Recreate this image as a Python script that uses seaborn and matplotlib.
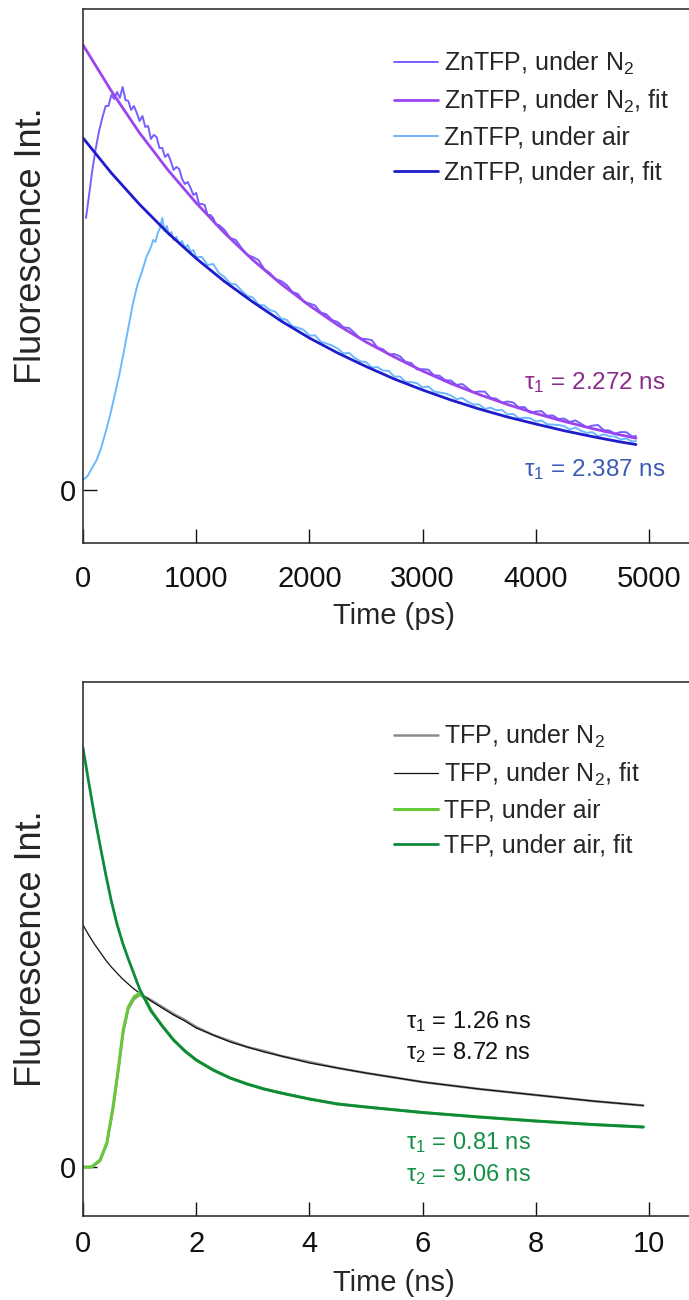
import matplotlib
matplotlib.use('Agg')
import matplotlib.pyplot as plt
import seaborn as sns

# ---- top panel: ZnTFP (time in ps, intensity in arbitrary units) ----
zn_n2_t = ([26, 50, 80, 110, 140, 170]
           + list(range(200, 1225, 25))
           + list(range(1250, 4900, 50)) + [4885])
zn_n2_v = [272, 292, 318, 340, 358, 372,
           384, 384, 395, 391, 398, 392, 403, 390, 389, 380,
           384, 377, 369, 374, 363, 364, 351, 355, 353, 342,
           342, 333, 336, 329, 320, 323, 321, 311, 306, 308,
           302, 295, 297, 286, 286, 285, 275, 275, 272, 265,
           265,
           260, 252, 250, 242, 235, 233, 230, 221, 217, 211,
           209, 205, 198, 196, 188, 186.5, 184.5, 177.6, 175.7, 170,
           168, 162.7, 162, 157, 151.4, 151, 150, 142.6, 140.7, 135.6,
           136, 133.7, 128, 127, 120.5, 120.8, 120.3, 114.7, 114.3, 109.8,
           109.5, 105, 106, 101.6, 97.5, 98.5, 98.3, 92.2, 91.3, 87.3,
           88.5, 87.5, 82.7, 83, 77.2, 78.5, 78.9, 74.2, 74.6, 71,
           71.5, 68, 69.6, 66.2, 62.8, 64.4, 65, 59.8, 59.5, 56.2,
           58, 57.8, 53.6,
           54]

zn_fit_t = [0, 250, 500, 750, 1000, 1250, 1500, 1750, 2000, 2250, 2500, 2750, 3000,
            3250, 3500, 3750, 4000, 4250, 4500, 4750, 4885]
zn_n2_fit = [445, 399, 357, 320, 287, 257, 230, 206, 184.5, 165, 148, 133, 119,
             106.5, 95.5, 85.5, 76.5, 68.6, 61.4, 55, 51.8]
zn_air_fit = [352, 317, 285.5, 257, 231.5, 208.5, 188, 169, 152, 137, 123.5, 111, 100,
              90, 81, 73, 66, 59.3, 53.4, 48, 45.5]

zn_air_t = ([0, 40, 80, 120, 160, 200, 240, 280, 320, 360,
             400, 440, 480, 520, 560, 600, 620, 640, 660, 680,
             700, 720, 740, 760, 780, 800, 825, 850, 875, 900,
             925, 950, 975, 1000, 1050, 1100, 1150, 1200]
            + list(range(1250, 4900, 50)) + [4885])
zn_air_v = [10, 14, 22, 30, 42, 58, 75, 95, 115, 138,
            162, 186, 205, 218, 233, 243, 250, 248, 257, 262,
            272, 259, 264, 255, 258, 250, 253, 246, 249, 242,
            245, 238, 240, 233, 233, 225, 226, 217,
            213, 206.5, 205.5, 199.5, 194.2, 192.5, 185.4, 184.5, 179.9, 178.2,
            171.5, 170.1, 163.7, 162.3, 160, 154.5, 154.6, 148.5, 146.5, 144.5,
            141.5, 136.5, 137, 132.3, 128.6, 128, 122.5, 123, 119.5, 119.1,
            113.5, 113.4, 108.2, 107.9, 106.8, 102.5, 103.6, 98.5, 97.5, 96.5,
            94.5, 90.8, 92, 88.2, 85.5, 85.5, 81.1, 82.4, 79.8, 80.2,
            75.5, 76.1, 71.7, 72.2, 71.8, 68.5, 69.5, 65.7, 65.4, 65.1,
            63.8, 60.5, 62.4, 59.2, 57.1, 57.9, 53.8, 55.7, 53.7, 53.5,
            50.5, 51.5, 48.6,
            49]

# ---- bottom panel: TFP (time in ns) ----
tfp_fit_t = [0, 0.1, 0.2, 0.3, 0.4, 0.5, 0.6, 0.7, 0.8, 0.9, 1.0, 1.2, 1.4, 1.6, 1.8,
             2.0, 2.3, 2.6, 2.9, 3.2, 3.5, 4.0, 4.5, 5.0, 6.0, 7.0, 8.0, 9.0, 9.9]
tfp_air_fit = [419, 385, 352, 322, 293, 266, 243, 224, 208, 193, 178, 156, 141, 127, 116,
               107, 97, 89, 83, 78, 74, 68, 63, 60, 54.5, 50, 46, 42.5, 40]
tfp_n2_fit = [242, 232, 223, 215, 207, 200, 194, 188, 183, 178, 174, 166, 159, 152, 146,
              139, 132, 125, 120, 115, 111, 104, 99, 94, 85, 78, 72, 66, 61.5]

tfp_data_t = [0, 0.15, 0.3, 0.42, 0.53, 0.62, 0.71, 0.8, 0.9, 1.0, 1.1, 1.2, 1.4, 1.6,
              1.8, 2.0, 2.3, 2.6, 2.9, 3.2, 3.5, 4.0, 4.5, 5.0, 6.0, 7.0, 8.0, 9.0, 9.9]
tfp_n2_v = [0, 0, 6, 23, 58, 95, 135, 158, 168, 172, 170, 167, 160, 153, 147,
            140, 132, 126, 120, 116, 111, 105, 99, 94, 85, 78, 72, 66, 61.5]
tfp_air_v = [0, 0, 7, 24, 60, 97, 137, 160, 170, 174, 168, 157, 141, 127, 116,
             107, 97, 89, 83, 78, 74, 68, 63, 60, 54.5, 50, 46, 42.5, 40]

sns.set_style('ticks')
plt.rcParams['font.family'] = ['Liberation Sans', 'DejaVu Sans']
plt.rcParams['mathtext.fontset'] = 'custom'
plt.rcParams['mathtext.rm'] = 'Liberation Sans'
plt.rcParams['mathtext.it'] = 'Liberation Sans:italic'
plt.rcParams['mathtext.default'] = 'regular'

fig = plt.figure(figsize=(6.89, 13.0), dpi=100)
ax1 = fig.add_axes([0.1205, 0.5823, 0.9036, 0.4108])
ax2 = fig.add_axes([0.1205, 0.0646, 0.9036, 0.4108])

# top
sns.lineplot(x=zn_n2_t, y=zn_n2_v, ax=ax1, color='#7560ff', lw=1.4, label='ZnTFP, under N$_2$',
             estimator=None, sort=False)
sns.lineplot(x=zn_fit_t, y=zn_n2_fit, ax=ax1, color='#9b45ef', lw=2.0, label='ZnTFP, under N$_2$, fit',
             estimator=None, sort=False)
sns.lineplot(x=zn_air_t, y=zn_air_v, ax=ax1, color='#6cb8ff', lw=1.4, label='ZnTFP, under air',
             estimator=None, sort=False)
sns.lineplot(x=zn_fit_t, y=zn_air_fit, ax=ax1, color='#1f1ccc', lw=2.0, label='ZnTFP, under air, fit',
             estimator=None, sort=False)
ax1.set_xlim(0, 5500)
ax1.set_ylim(-53, 481)
ax1.set_xticks([0, 1000, 2000, 3000, 4000, 5000])
ax1.set_xlabel('Time (ps)', fontsize=21, labelpad=6)
ax1.text(3900, 107, 'τ$_1$ = 2.272 ns', color='#8a2b8a', fontsize=17.5, va='center')
ax1.text(3900, 20, 'τ$_1$ = 2.387 ns', color='#3d5bb5', fontsize=17.5, va='center')
ax1.tick_params(axis='x', pad=16)

# bottom
sns.lineplot(x=tfp_data_t, y=tfp_n2_v, ax=ax2, color='#8c8c8c', lw=1.8, label='TFP, under N$_2$',
             estimator=None, sort=False)
sns.lineplot(x=tfp_fit_t, y=tfp_n2_fit, ax=ax2, color='#111111', lw=0.9, label='TFP, under N$_2$, fit',
             estimator=None, sort=False)
sns.lineplot(x=tfp_data_t, y=tfp_air_v, ax=ax2, color='#66c83a', lw=2.2, label='TFP, under air',
             estimator=None, sort=False)
sns.lineplot(x=tfp_fit_t, y=tfp_air_fit, ax=ax2, color='#0e8a3c', lw=2.0, label='TFP, under air, fit',
             estimator=None, sort=False)
ax2.set_xlim(0, 11)
ax2.set_ylim(-49, 485)
ax2.set_xticks([0, 2, 4, 6, 8, 10])
ax2.set_xlabel('Time (ns)', fontsize=21, labelpad=8)
ax2.text(5.7, 145, 'τ$_1$ = 1.26 ns', color='#111111', fontsize=17, va='center')
ax2.text(5.7, 114, 'τ$_2$ = 8.72 ns', color='#111111', fontsize=17, va='center')
ax2.text(5.7, 24, 'τ$_1$ = 0.81 ns', color='#139046', fontsize=17, va='center')
ax2.text(5.7, -8, 'τ$_2$ = 9.06 ns', color='#139046', fontsize=17, va='center')
ax2.tick_params(axis='x', pad=10)

for ax, label_y in ((ax1, 0.556), (ax2, 0.5)):
    ax.set_yticks([0])
    ax.set_ylabel('Fluorescence Int.', fontsize=26)
    ax.yaxis.set_label_coords(-0.055, label_y)
    ax.tick_params(direction='in', length=10, width=1, labelsize=21, colors='#111111')
    ax.tick_params(axis='y', pad=5)
    for s in ('left', 'top', 'bottom'):
        ax.spines[s].set_color('#333333')
        ax.spines[s].set_linewidth(1.2)
    ax.spines['right'].set_visible(False)
    ax.legend(loc='upper left', bbox_to_anchor=(0.5, 0.924), frameon=False, fontsize=18,
              handlelength=1.75, handletextpad=0.25, labelspacing=0.44, borderpad=0,
              borderaxespad=0)

fig.savefig('out.png', dpi=100)
